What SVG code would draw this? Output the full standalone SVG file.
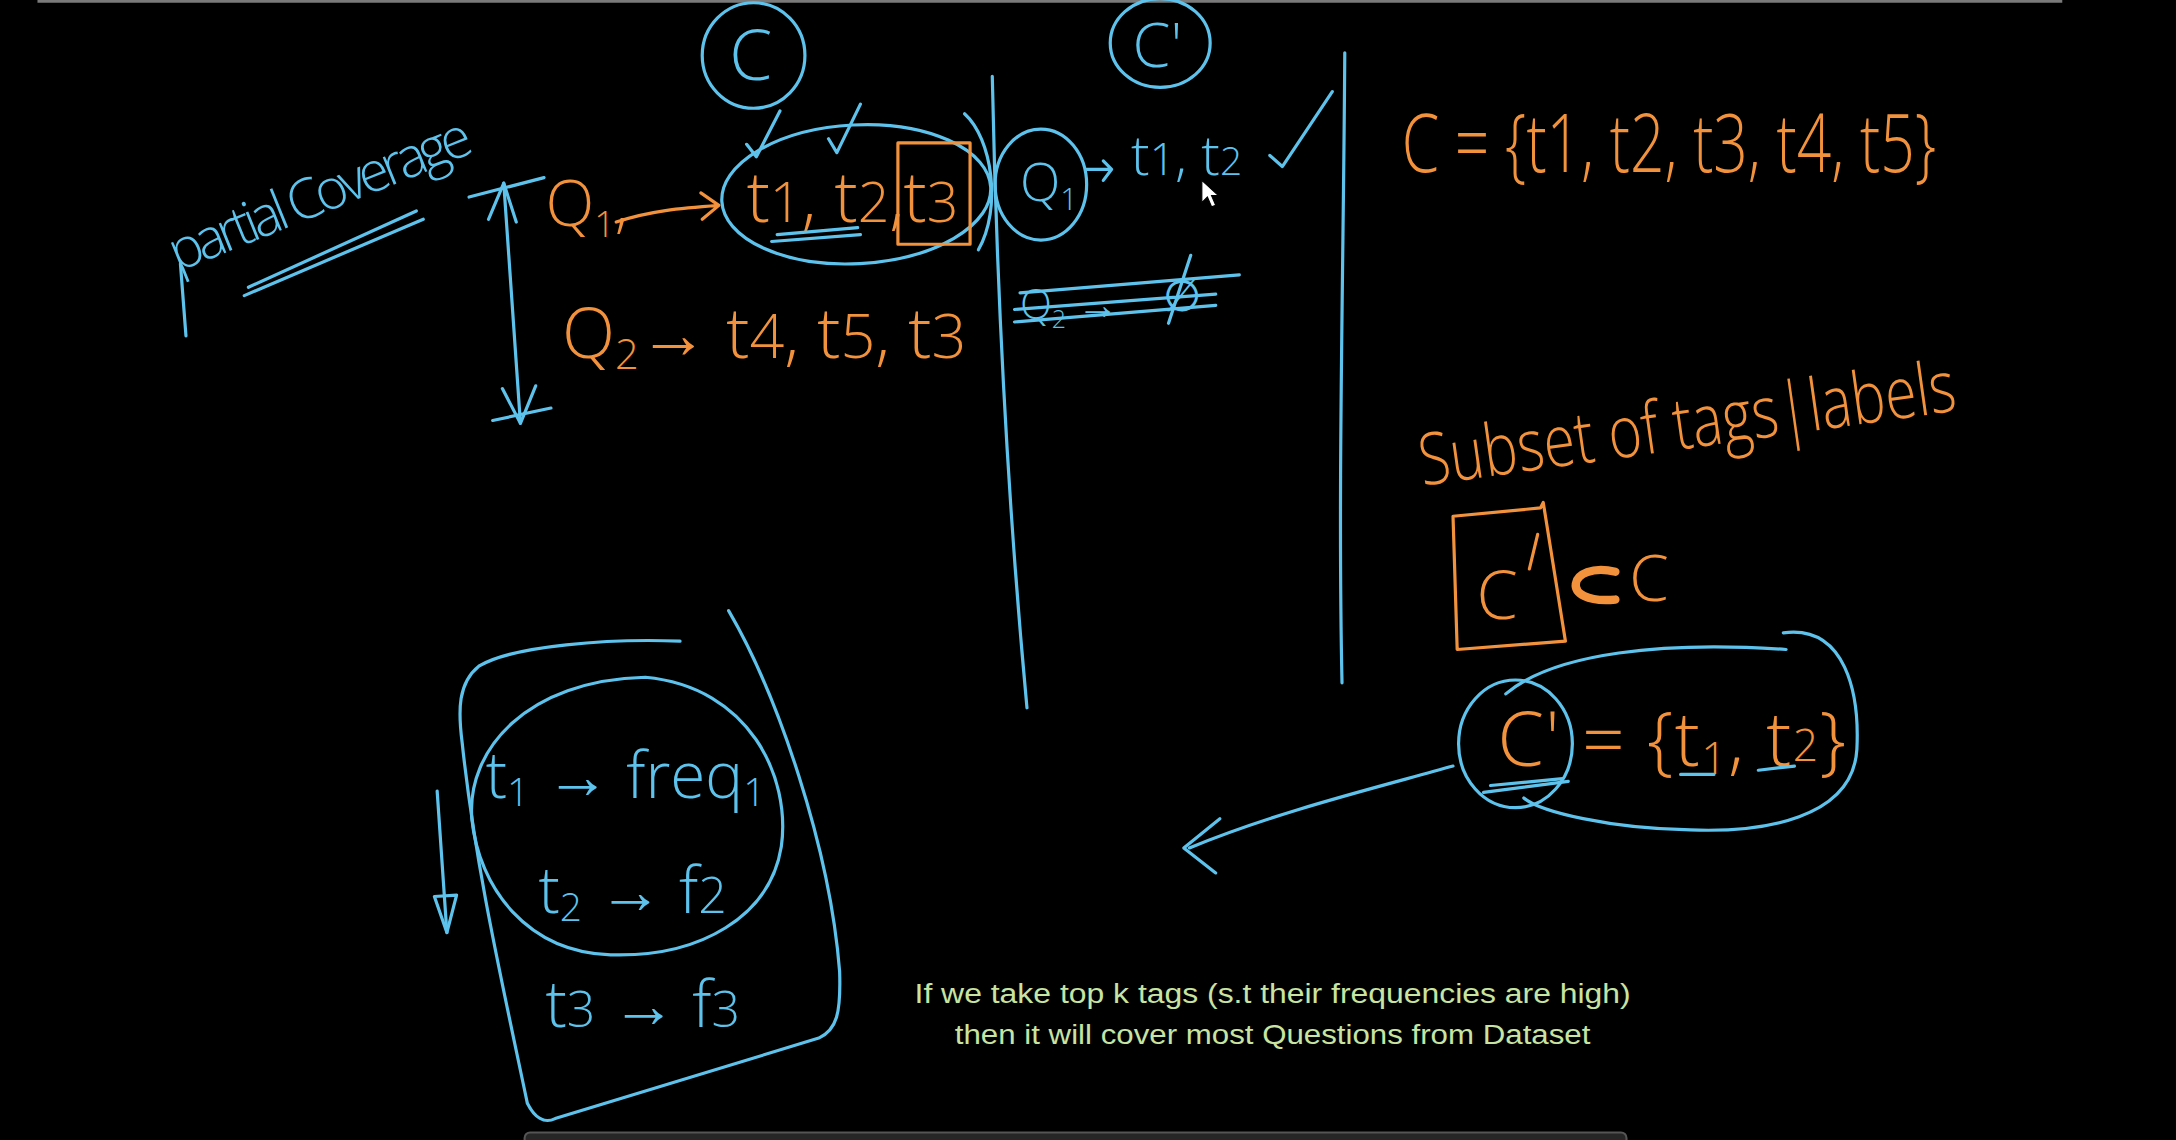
<svg xmlns="http://www.w3.org/2000/svg" width="2176" height="1140" viewBox="0 0 2176 1140">
<style>
.b{stroke:#5ec3ec;fill:none;stroke-width:2.3;stroke-linecap:round;stroke-linejoin:round}
.o{stroke:#f3923c;fill:none;stroke-width:2.3;stroke-linecap:round;stroke-linejoin:round}
.tb{fill:#5ec3ec;font-family:"Open Sans","Liberation Sans",sans-serif;font-weight:300}
.to{fill:#f3923c;font-family:"Open Sans","Liberation Sans",sans-serif;font-weight:300}
.cap{fill:#c8e4a2;font-family:"Liberation Sans",sans-serif;font-size:20px;text-anchor:middle}
</style>
<rect width="2176" height="1140" fill="#000"/>
<g transform="scale(1.3878)">
<line x1="27" y1="1" x2="1486" y2="1" stroke="#7a7a7a" stroke-width="2"/>
<rect x="378" y="816" width="794" height="12" rx="4" fill="#262626" stroke="#555" stroke-width="1.5"/>

<g id="divider-lines">
<path class="b" d="M715,55 C718,200 725,350 740,510"/>
<path class="b" d="M969,38 C968,200 964,350 967,492"/>
</g>

<g id="node-C">
<ellipse class="b" cx="543" cy="40" rx="37" ry="38"/>
<text class="tb" x="541" y="58" font-size="50" text-anchor="middle">C</text>
</g>
<g id="node-Cprime">
<ellipse class="b" cx="836" cy="31" rx="36" ry="32"/>
<text class="tb" x="834" y="48" font-size="44" text-anchor="middle">C'</text>
</g>

<g id="partial-coverage">
<text class="tb" x="128" y="196" font-size="40" transform="rotate(-22 128 196)" textLength="232">partial Coverage</text>
<path class="b" d="M130,190 L134,242"/>
<path class="b" d="M176,213 L305,158 M179,207 L300,152"/>
</g>

<g id="double-arrow">
<path class="b" d="M363,132 L375,305"/>
<path class="b" d="M352,158 L363,132 L372,160"/>
<path class="b" d="M362,280 L375,305 L386,278"/>
<path class="b" stroke-width="3.5" d="M338,142 L392,128"/>
<path class="b" stroke-width="3.5" d="M355,303 L397,294"/>
</g>

<g id="Q1-row">
<text class="to" x="393" y="163" font-size="46">Q<tspan font-size="26" dy="8">1</tspan><tspan dy="-8">,</tspan></text>
<path class="o" d="M444,160 C468,152 490,150 518,148 M505,139 L518,148 L506,158"/>
<ellipse class="b" cx="617" cy="140" rx="97" ry="50" transform="rotate(-3 617 140)"/>
<path class="b" d="M695,82 C715,100 722,150 705,180"/>
<text class="to" x="538" y="160" font-size="50">t<tspan font-size="40">1</tspan>, t<tspan font-size="40">2</tspan>,</text>
<rect class="o" x="647" y="103" width="52" height="73"/>
<text class="to" x="651" y="160" font-size="50">t<tspan font-size="40">3</tspan></text>
<path class="b" d="M538,104 L545,113 L562,80 M597,100 L603,110 L620,75"/>
<path class="b" d="M556,174 L620,169 M560,169 L618,164"/>
</g>

<g id="Q2-row">
<text class="to" x="405" y="258" font-size="50">Q<tspan font-size="30" dy="8">2</tspan><tspan dy="-8">→ t</tspan><tspan font-size="44">4</tspan>, t<tspan font-size="44">5</tspan>, t<tspan font-size="44">3</tspan></text>
</g>

<g id="Cprime-side">
<ellipse class="b" cx="750" cy="133" rx="33" ry="40"/>
<text class="tb" x="735" y="145" font-size="38">Q<tspan font-size="22" dy="6">1</tspan></text>
<path class="b" d="M783,122 L800,122 M795,116 L801,122 L795,130"/>
<text class="tb" x="815" y="126" font-size="40">t<tspan font-size="32">1</tspan>, t<tspan font-size="28">2</tspan></text>
<path class="b" d="M915,112 L924,120 L960,66"/>
<path d="M866,130 L866,146 L870,142 L873,149 L876,148 L873,141 L878,141 Z" fill="#fff" stroke="#000" stroke-width="0.8"/>
<text class="tb" x="735" y="230" font-size="30">Q<tspan font-size="18" dy="6">2</tspan><tspan dy="-6"> → </tspan></text>
<text class="tb" x="838" y="224" font-size="32">∅</text>
<path class="b" d="M731,223 L876,212 M735,211 L893,198 M731,232 L876,220 M858,184 L842,233"/>
</g>

<g id="set-C">
<text class="to" x="1010" y="124" font-size="58" textLength="385" lengthAdjust="spacingAndGlyphs">C = {t1, t2, t3, t4, t5}</text>
</g>

<g id="subset-label">
<text class="to" x="1025" y="350" font-size="52" transform="rotate(-8 1025 350)" textLength="390" lengthAdjust="spacingAndGlyphs">Subset of tags|labels</text>
</g>

<g id="subset-relation">
<path class="o" d="M1047,372 L1110,366 L1112,362 L1128,462 L1050,468 Z"/>
<text class="to" x="1064" y="446" font-size="48">C</text>
<path class="o" d="M1102,410 L1108,385"/>
<path stroke="#f3923c" fill="none" stroke-width="6" stroke-linecap="round" d="M1164,412 C1130,404 1122,436 1164,432"/>
<text class="to" x="1174" y="433" font-size="46">C</text>
</g>

<g id="Cprime-set">
<ellipse class="b" cx="1092" cy="536" rx="41" ry="46"/>
<path class="b" d="M1085,500 C1120,470 1200,462 1287,468"/>
<path class="b" d="M1285,456 C1330,450 1340,500 1338,540 C1335,590 1270,600 1218,598 C1160,597 1110,585 1098,575"/>
<text class="to" x="1079" y="552" font-size="54" letter-spacing="1">C' = {t<tspan font-size="32" dy="6">1</tspan><tspan dy="-6">, t</tspan><tspan font-size="32" dy="-4">2</tspan><tspan dy="4">}</tspan></text>
<path class="b" d="M1211,558 L1235,558 M1267,555 L1293,552"/>
<path class="b" stroke-width="4.5" d="M1069,571 L1130,563 M1074,566 L1126,561"/>
</g>

<g id="connectors">
<path class="b" d="M1047,552 C990,568 920,585 857,611"/>
<path class="b" d="M879,590 L853,611 L876,629"/>
<path class="b" d="M315,570 L322,672"/>
<path class="b" d="M313,646 L322,672 L329,645 Z"/>
</g>

<g id="freq-box">
<path class="b" d="M490,462 C440,460 370,465 345,480 C330,492 330,512 333,535 C342,620 360,700 380,795 C385,805 392,810 400,806 L590,748 C603,742 606,730 605,700 C598,610 560,500 525,440"/>
<path class="b" d="M465,488 C540,495 570,560 563,610 C555,660 505,690 440,688 C380,686 345,640 340,590 C336,540 380,490 465,488 Z"/>
<text class="tb" x="350" y="575" font-size="46">t<tspan font-size="28" dy="6">1</tspan><tspan dy="-6"> → freq</tspan><tspan font-size="28" dy="6">1</tspan></text>
<text class="tb" x="388" y="658" font-size="46">t<tspan font-size="28" dy="6">2</tspan><tspan dy="-6"> → f</tspan><tspan font-size="36">2</tspan></text>
<text class="tb" x="393" y="740" font-size="46">t<tspan font-size="36">3</tspan> → f<tspan font-size="36">3</tspan></text>
</g>

<g id="caption">
<text class="cap" x="917" y="723" textLength="516" lengthAdjust="spacingAndGlyphs">If we take top k tags (s.t their frequencies are high)</text>
<text class="cap" x="917" y="752" textLength="458" lengthAdjust="spacingAndGlyphs">then it will cover most Questions from Dataset</text>
</g>
</g>
</svg>
